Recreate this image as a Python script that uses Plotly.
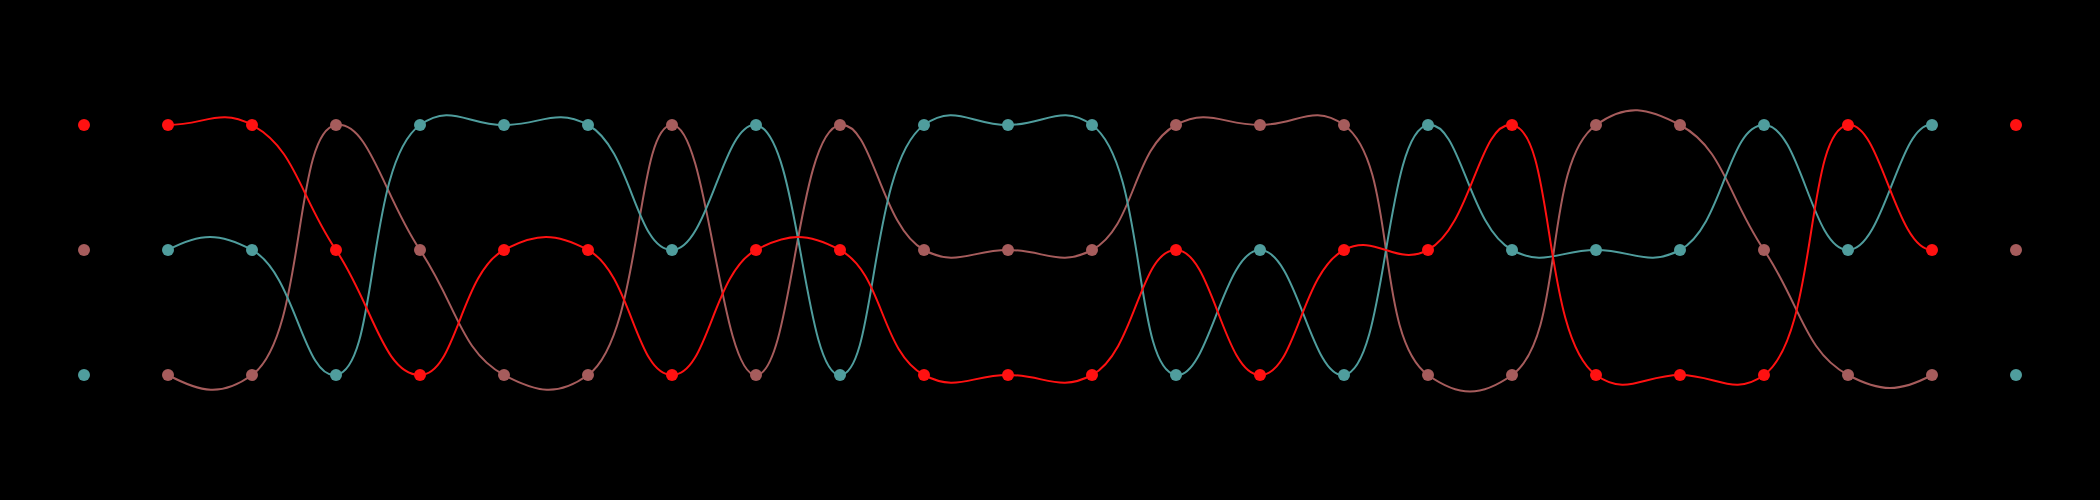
import plotly.graph_objects as go

steps = list(range(0, 24))
red_rank = [1, 1, 1, 2, 3, 2, 2, 3, 2, 2, 3, 3, 3, 2, 3, 2, 2, 1, 3, 3, 3, 1, 2, 1]
teal_rank = [3, 2, 2, 3, 1, 1, 1, 2, 1, 3, 1, 1, 1, 3, 2, 3, 1, 2, 2, 2, 1, 2, 1, 3]
brown_rank = [2, 3, 3, 1, 2, 3, 3, 1, 3, 1, 2, 2, 2, 1, 1, 1, 3, 3, 1, 1, 2, 3, 3, 2]

colors = {"red": "#ff1111", "brown": "#a65c5c", "teal": "#4f9d9d"}
series = [("brown", brown_rank), ("teal", teal_rank), ("red", red_rank)]

fig = go.Figure()
# lines: on a narrower x-axis so the first and last segments are clipped away
for name, ranks in series:
    fig.add_trace(go.Scatter(x=steps, y=ranks, mode="lines", xaxis="x", yaxis="y",
                             line=dict(color=colors[name], width=2, shape="spline", smoothing=1.3),
                             cliponaxis=True, showlegend=False, hoverinfo="skip"))
# markers: on a full-width x-axis
for name, ranks in series:
    fig.add_trace(go.Scatter(x=steps, y=ranks, mode="markers", xaxis="x2", yaxis="y",
                             marker=dict(color=colors[name], size=12),
                             cliponaxis=False, showlegend=False, hoverinfo="skip"))

fig.update_layout(
    width=2100, height=500,
    paper_bgcolor="black", plot_bgcolor="rgba(0,0,0,0)",
    margin=dict(l=0, r=0, t=0, b=0),
    xaxis=dict(range=[1, 22], domain=[168 / 2100, 1932 / 2100], visible=False, anchor="y"),
    xaxis2=dict(range=[-1, 24], domain=[0, 1], visible=False, anchor="y"),
    yaxis=dict(range=[4, 0], domain=[0, 1], visible=False, anchor="x"),
)
fig.write_html("out.html", config={"displayModeBar": False},
               post_script="document.body.style.margin='0';document.body.style.background='black';")
